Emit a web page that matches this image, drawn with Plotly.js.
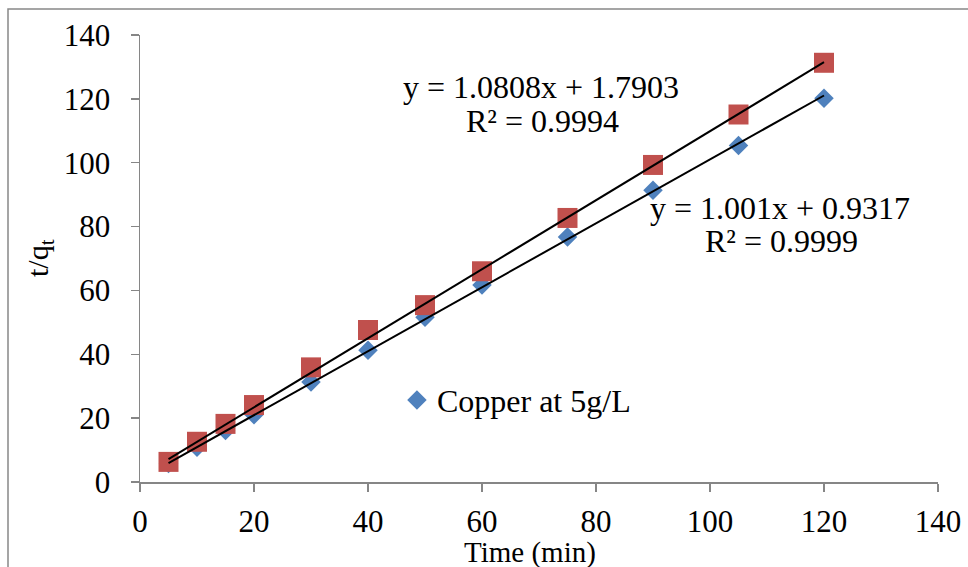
<!DOCTYPE html>
<html>
<head>
<meta charset="utf-8">
<script src="https://cdn.plot.ly/plotly-3.0.1.min.js"></script>
<style>html,body{margin:0;padding:0;background:#fff;}#chart{width:968px;height:567px;}</style>
</head>
<body>
<div id="chart"></div>
<script>
// Data
const time = [5, 10, 15, 20, 30, 40, 50, 60, 75, 90, 105, 120];
const copperBlue = [5.8, 10.9, 16.1, 21.1, 31.3, 41.3, 51.6, 61.7, 76.7, 91.4, 105.4, 120.2];
const copperRed = [6.3, 12.6, 18.2, 24.1, 35.9, 47.6, 55.4, 66.0, 82.7, 99.3, 115.1, 131.3];
const blueName = "Copper at 5g/L";
// Trendline coefficients (as printed on the chart)
const blueFit = {slope: 1.001, intercept: 0.9317, r2: "0.9999"};
const redFit = {slope: 1.0808, intercept: 1.7903, r2: "0.9994"};
const xTicks = [0, 20, 40, 60, 80, 100, 120, 140];
const yTicks = [0, 20, 40, 60, 80, 100, 120, 140];

const font = '"Liberation Serif", "Times New Roman", serif';
const xEnds = [time[0], time[time.length - 1]];
const lineY = f => xEnds.map(x => f.slope * x + f.intercept);

const traces = [
  {x: time, y: copperBlue, mode: "markers", type: "scatter", name: blueName,
   marker: {symbol: "diamond", size: 15, color: "#4F81BD"}, showlegend: true},
  {x: time, y: copperRed, mode: "markers", type: "scatter", name: "Copper",
   marker: {symbol: "square", size: 20, color: "#C0504D"}, showlegend: false},
  {x: xEnds, y: lineY(blueFit), mode: "lines", type: "scatter",
   line: {color: "#000", width: 2}, showlegend: false, hoverinfo: "skip"},
  {x: xEnds, y: lineY(redFit), mode: "lines", type: "scatter",
   line: {color: "#000", width: 2}, showlegend: false, hoverinfo: "skip"}
];

const eqText = f => "y = " + f.slope + "x + " + f.intercept;
const r2Text = f => "R² = " + f.r2;
const annFont = {family: font, size: 32, color: "#000"};
const ann = (text, x, y) => ({text: text, x: x, y: y, xref: "x", yref: "y", showarrow: false,
  xanchor: "center", yanchor: "middle", font: annFont});

const layout = {
  width: 968, height: 567,
  margin: {l: 140, r: 30, t: 35, b: 85},
  paper_bgcolor: "#fff", plot_bgcolor: "#fff",
  font: {family: font, size: 30, color: "#000"},
  showlegend: true,
  legend: {x: 0.322, y: 0.183, xanchor: "left", yanchor: "middle",
           font: {family: font, size: 32, color: "#000"}, bgcolor: "rgba(0,0,0,0)",
           itemwidth: 30, tracegroupgap: 0},
  xaxis: {range: [0, 140], tickvals: xTicks, ticktext: xTicks.map(String),
          showgrid: false, zeroline: false, showline: true, linecolor: "#868686", linewidth: 1.5,
          ticks: "outside", ticklen: 8, tickcolor: "#868686", tickwidth: 1.5,
          ticklabelstandoff: 3, tickfont: {family: font, size: 31, color: "#000"}},
  yaxis: {range: [0, 140], tickvals: yTicks, ticktext: yTicks.map(String),
          showgrid: false, zeroline: false, showline: true, linecolor: "#868686", linewidth: 1.5,
          ticks: "outside", ticklen: 8, tickcolor: "#868686", tickwidth: 1.5,
          ticklabelstandoff: 14, tickfont: {family: font, size: 31, color: "#000"}},
  annotations: [
    ann(eqText(redFit), 70.35, 123.7),
    ann(r2Text(redFit), 70.7, 113.0),
    ann(eqText(blueFit), 112.3, 85.8),
    ann(r2Text(blueFit), 112.6, 75.5),
    {text: "Time (min)", x: (530 - 140) / 798, y: (482 - 552) / 447, xref: "paper", yref: "paper",
     showarrow: false, xanchor: "center", yanchor: "middle", font: {family: font, size: 29, color: "#000"}},
    {text: "t/q<sub>t</sub>", x: (40 - 140) / 798, y: (482 - 258) / 447, xref: "paper", yref: "paper",
     showarrow: false, xanchor: "center", yanchor: "middle", textangle: -90, font: {family: font, size: 30, color: "#000"}}
  ],
  shapes: [
    {type: "rect", xref: "paper", yref: "paper",
     x0: (8 - 140) / 798, x1: (980 - 140) / 798, y0: (482 - 590) / 447, y1: (482 - 9) / 447,
     line: {color: "#888", width: 1.5}, fillcolor: "rgba(0,0,0,0)", layer: "below"}
  ]
};

Plotly.newPlot("chart", traces, layout, {displayModeBar: false, staticPlot: true});
</script>
</body>
</html>
